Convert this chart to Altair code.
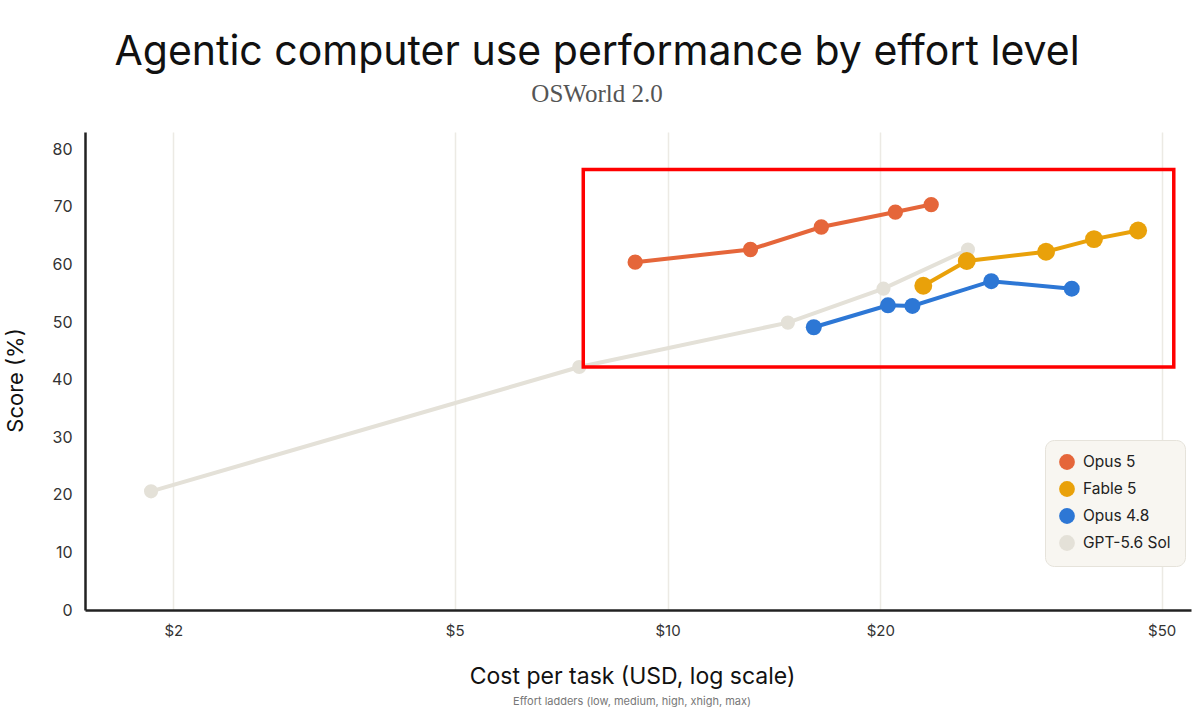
import altair as alt
import pandas as pd

# ---- data ----
series_names = ["Opus 5", "Fable 5", "Opus 4.8", "GPT-5.6 Sol"]
series_colors = ["#E5663A", "#E9A10A", "#2D77D5", "#E4E1D8"]
effort_levels = ["low", "medium", "high", "xhigh", "max"]

opus5_cost = [9.0, 13.1, 16.5, 21.0, 23.6]
opus5_score = [60.4, 62.6, 66.5, 69.1, 70.4]

fable5_cost = [23.0, 26.5, 34.3, 40.1, 46.3]
fable5_score = [56.3, 60.6, 62.2, 64.4, 65.9]

opus48_cost = [16.1, 20.5, 22.2, 28.7, 37.3]
opus48_score = [49.1, 52.9, 52.8, 57.1, 55.8]

gpt_cost = [1.86, 7.5, 14.8, 20.2, 26.6]
gpt_score = [20.6, 42.2, 49.9, 55.8, 62.6]

x_ticks = [2, 5, 10, 20, 50]
y_ticks = [0, 10, 20, 30, 40, 50, 60, 70, 80]

# highlight box (data coordinates)
box_cost = [7.6, 52.0]
box_score = [42.2, 76.5]

# ---- tables ----
def make_df(name, costs, scores):
    return pd.DataFrame({
        "series": name,
        "cost": costs,
        "score": scores,
        "effort": effort_levels,
        "step": list(range(len(costs))),
    })

dfs = {
    "Opus 5": make_df("Opus 5", opus5_cost, opus5_score),
    "Fable 5": make_df("Fable 5", fable5_cost, fable5_score),
    "Opus 4.8": make_df("Opus 4.8", opus48_cost, opus48_score),
    "GPT-5.6 Sol": make_df("GPT-5.6 Sol", gpt_cost, gpt_score),
}
box_df = pd.DataFrame({"x1": [box_cost[0]], "x2": [box_cost[1]],
                       "y1": [box_score[0]], "y2": [box_score[1]]})

FONT = "Inter"

x_scale = alt.Scale(type="log", domain=[1.5, 55], nice=False)
y_scale = alt.Scale(domain=[0, 83], nice=False)
color_scale = alt.Scale(domain=series_names, range=series_colors)

x_axis = alt.Axis(
    values=x_ticks, labelExpr="'$' + datum.value", grid=True,
    gridColor="#ECEAE4", gridWidth=1.5, ticks=False, domainColor="#222222",
    domainWidth=2.5, labelFontSize=15, labelColor="#333333", labelPadding=13,
    labelFont=FONT, title="Cost per task (USD, log scale)", titleFont=FONT,
    titleFontSize=23, titleFontWeight="normal", titleColor="#111111",
    titleX=547, titleY=66, titleBaseline="middle", titleAnchor="start",
    titleAlign="center",
)
y_axis = alt.Axis(
    values=y_ticks, grid=False, ticks=False, domainColor="#222222",
    domainWidth=2.5, labelFontSize=16, labelColor="#333333", labelPadding=13,
    labelFont=FONT, title="Score (%)", titleFont=FONT, titleFontSize=22,
    titleFontWeight="normal", titleColor="#111111", titleX=-70, titleY=248,
    titleAngle=-90, titleBaseline="middle", titleAlign="center",
)

legend = alt.Legend(
    title=None, orient="none", legendX=960, legendY=308, symbolType="circle",
    symbolSize=250, symbolStrokeWidth=0, symbolOpacity=1, labelFontSize=15.5,
    labelFont=FONT, labelColor="#222222", rowPadding=10, padding=14,
    fillColor="#F8F6F1", strokeColor="#E6E3DB", cornerRadius=9,
    labelOffset=8,
)

sizes = {"Opus 5": 235, "Fable 5": 320, "Opus 4.8": 255, "GPT-5.6 Sol": 200}
draw_order = ["GPT-5.6 Sol", "Opus 4.8", "Fable 5", "Opus 5"]

layers = []
for name in draw_order:
    base = alt.Chart(dfs[name]).encode(
        x=alt.X("cost:Q", scale=x_scale, axis=x_axis),
        y=alt.Y("score:Q", scale=y_scale, axis=y_axis),
        color=alt.Color("series:N", scale=color_scale, legend=legend),
        order="step:O",
    )
    layers.append(base.mark_line(strokeWidth=4))
    layers.append(base.mark_circle(size=sizes[name], opacity=1))

box = alt.Chart(box_df).mark_rect(
    fill="transparent", stroke="#FF0000", strokeWidth=3.5
).encode(
    x=alt.X("x1:Q", scale=x_scale, axis=x_axis), x2="x2:Q",
    y=alt.Y("y1:Q", scale=y_scale, axis=y_axis), y2="y2:Q",
)
layers.append(box)

foot = alt.Chart(pd.DataFrame({"t": ["Effort ladders (low, medium, high, xhigh, max)"]})).mark_text(
    font=FONT, fontSize=11, color="#777777", align="center", baseline="middle"
).encode(text="t:N", x=alt.value(547), y=alt.value(570))
layers.append(foot)

chart = alt.layer(*layers).properties(
    width=1106,
    height=478,
    padding={"left": 85, "top": 132, "right": 9, "bottom": 109},
    autosize=alt.AutoSizeParams(type="none"),
    background="white",
    title=alt.TitleParams(
        text="Agentic computer use performance by effort level",
        subtitle="OSWorld 2.0",
        anchor="middle", dx=-41, offset=24,
        font=FONT, fontSize=41, fontWeight="normal", color="#111111",
        subtitleFont="Liberation Serif", subtitleFontSize=25,
        subtitleColor="#555555", subtitlePadding=8,
    ),
).configure_view(stroke="transparent", strokeWidth=0)

chart.save("out.html", embed_options={"renderer": "svg", "actions": False})
